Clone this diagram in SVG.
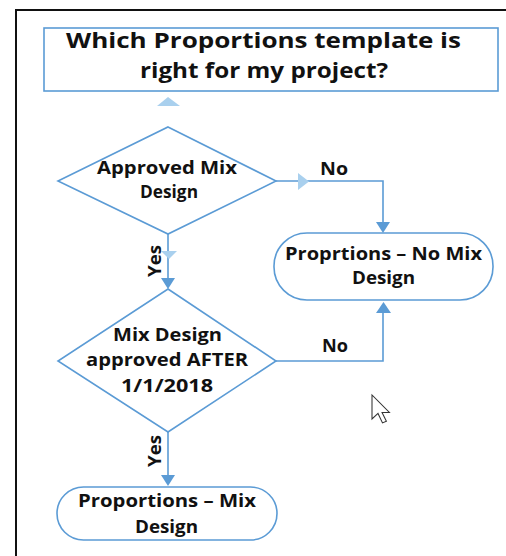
<svg xmlns="http://www.w3.org/2000/svg" width="506" height="556" viewBox="0 0 506 556">
<defs>
<style>
.shape{fill:#ffffff;stroke:#5b9bd5;stroke-width:1.6}
.conn{fill:none;stroke:#5b9bd5;stroke-width:1.6}
.head{fill:#5b9bd5}
.ghost{fill:#a9d0ee}
.t{font-family:"Open Sans","Liberation Sans",sans-serif;font-weight:bold;fill:#111111;text-anchor:middle}
.tt{font-size:22px}
.tn{font-size:18px}
.tl{font-size:17px}
</style>
</defs>
<rect x="0" y="0" width="506" height="556" fill="#ffffff"/>
<g id="frame">
<line x1="15" y1="10" x2="506" y2="10" stroke="#111111" stroke-width="2"/>
<line x1="16" y1="9" x2="16" y2="556" stroke="#111111" stroke-width="2"/>
</g>
<g id="connectors">
<polyline class="conn" points="276,181 383,181 383,226"/>
<polygon class="head" points="376,222 390,222 383,233"/>
<polygon class="ghost" points="298,173 298,190 309,181.5"/>
<text class="t tl" x="334" y="175" textLength="28" lengthAdjust="spacingAndGlyphs">No</text>
<line class="conn" x1="168" y1="234" x2="168" y2="283"/>
<polygon class="head" points="161,278 175,278 168,289"/>
<polygon class="ghost" points="161,251 177,251 169,259"/>
<text class="t tl" transform="translate(161,261) rotate(-90)" textLength="32" lengthAdjust="spacingAndGlyphs">Yes</text>
<polyline class="conn" points="276,361 383,361 383,309"/>
<polygon class="head" points="376,313 391,313 383.5,302"/>
<text class="t tl" x="335" y="352" textLength="26" lengthAdjust="spacingAndGlyphs">No</text>
<line class="conn" x1="168" y1="432" x2="168" y2="480"/>
<polygon class="head" points="161,475 175,475 168,486"/>
<text class="t tl" transform="translate(161,451) rotate(-90)" textLength="32" lengthAdjust="spacingAndGlyphs">Yes</text>
<polygon class="ghost" points="168,97 157,106 180,106"/>
</g>
<g id="title">
<rect class="shape" x="44" y="28" width="454" height="63"/>
<text class="t tt" x="263.5" y="48" textLength="395" lengthAdjust="spacingAndGlyphs">Which Proportions template is</text>
<text class="t tt" x="264" y="78" textLength="248" lengthAdjust="spacingAndGlyphs">right for my project?</text>
</g>
<g id="approved-mix">
<polygon class="shape" points="168,127 276,181 168,234 58,181"/>
<text class="t tn" x="167" y="174" textLength="140" lengthAdjust="spacingAndGlyphs">Approved Mix</text>
<text class="t tn" x="169" y="198" textLength="58" lengthAdjust="spacingAndGlyphs">Design</text>
</g>
<g id="after-2018">
<polygon class="shape" points="168,289 276,361 168,432 58,361"/>
<text class="t tn" x="167.5" y="341" textLength="109" lengthAdjust="spacingAndGlyphs">Mix Design</text>
<text class="t tn" x="167" y="366" textLength="162" lengthAdjust="spacingAndGlyphs">approved AFTER</text>
<text class="t tn" x="167" y="392" textLength="92" lengthAdjust="spacingAndGlyphs">1/1/2018</text>
</g>
<g id="no-mix">
<rect class="shape" x="274" y="233" width="219" height="67" rx="33" ry="33"/>
<text class="t tn" x="383.5" y="260" textLength="197" lengthAdjust="spacingAndGlyphs">Proprtions – No Mix</text>
<text class="t tn" x="383.5" y="284" textLength="63" lengthAdjust="spacingAndGlyphs">Design</text>
</g>
<g id="mix">
<rect class="shape" x="57" y="487" width="220" height="53" rx="26.5" ry="26.5"/>
<text class="t tn" x="167" y="507" textLength="178" lengthAdjust="spacingAndGlyphs">Proportions – Mix</text>
<text class="t tn" x="166.5" y="533" textLength="63" lengthAdjust="spacingAndGlyphs">Design</text>
</g>
<g id="cursor" transform="translate(372,395) scale(1.5)">
<polygon points="0,0 0,16 4,12.3 7,18.6 9.6,17.5 6.7,11.6 11.6,11.6" fill="#ffffff" stroke="#333333" stroke-width="0.7" stroke-linejoin="miter"/>
</g>
</svg>
